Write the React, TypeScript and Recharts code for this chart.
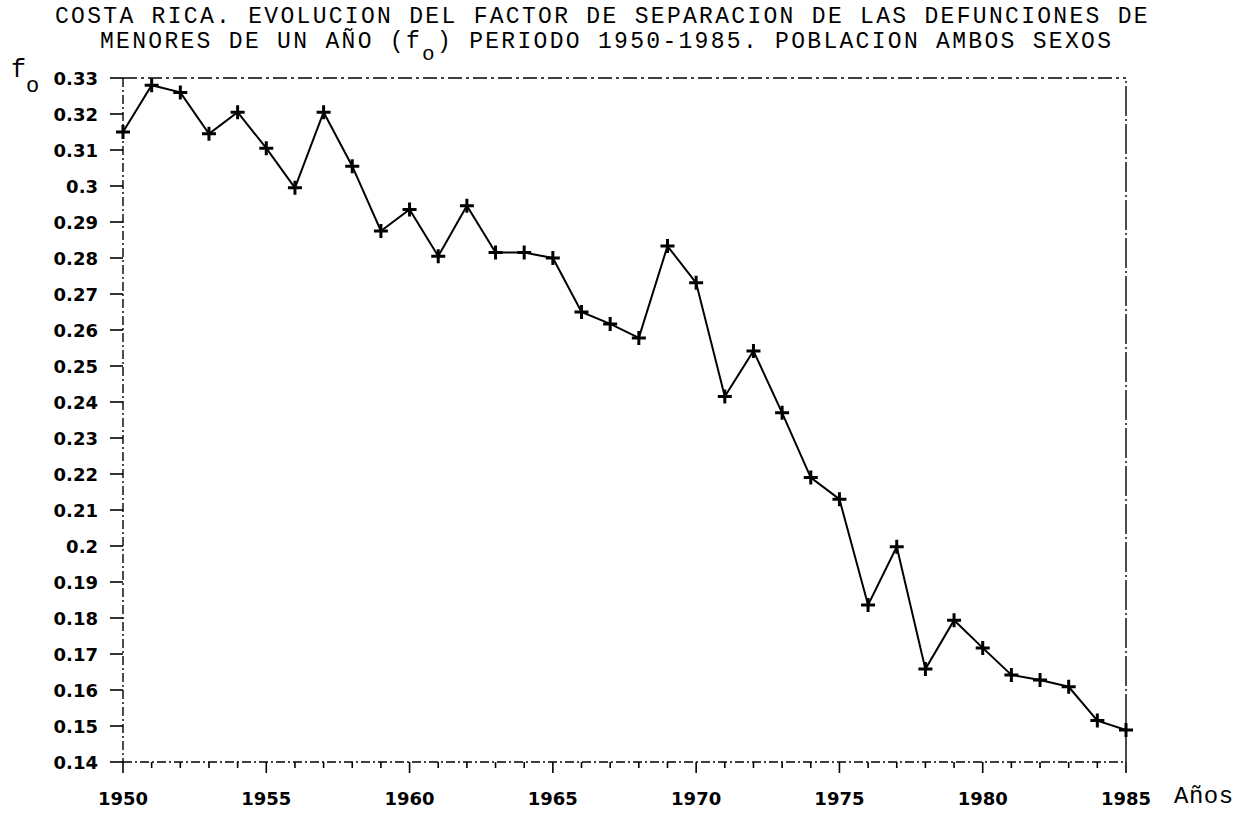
import React from 'react';
import { LineChart, Line, XAxis, YAxis, ReferenceLine } from 'recharts';

const years = [
  1950, 1951, 1952, 1953, 1954, 1955, 1956, 1957, 1958, 1959,
  1960, 1961, 1962, 1963, 1964, 1965, 1966, 1967, 1968, 1969,
  1970, 1971, 1972, 1973, 1974, 1975, 1976, 1977, 1978, 1979,
  1980, 1981, 1982, 1983, 1984, 1985,
];

const foValues = [
  0.315, 0.328, 0.326, 0.3145, 0.3205, 0.3105, 0.2995, 0.3205, 0.3055, 0.2875,
  0.2935, 0.2805, 0.2945, 0.2815, 0.2815, 0.28, 0.265, 0.2617, 0.2578, 0.2833,
  0.2731, 0.2415, 0.2542, 0.237, 0.219, 0.213, 0.1836, 0.1998, 0.1658, 0.1794,
  0.1717, 0.1642, 0.1628, 0.1609, 0.1515, 0.1489,
];

const yTicks = [
  0.14, 0.15, 0.16, 0.17, 0.18, 0.19, 0.2, 0.21, 0.22, 0.23,
  0.24, 0.25, 0.26, 0.27, 0.28, 0.29, 0.3, 0.31, 0.32, 0.33,
];

const xLabelYears = [1950, 1955, 1960, 1965, 1970, 1975, 1980, 1985];

const titleLine1 = 'COSTA RICA. EVOLUCION DEL FACTOR DE SEPARACION DE LAS DEFUNCIONES DE';
const titleLine2a = 'MENORES DE UN AÑO (f';
const titleLine2sub = 'o';
const titleLine2b = ') PERIODO 1950-1985. POBLACION AMBOS SEXOS';
const yAxisLabel = 'f';
const yAxisLabelSub = 'o';
const xAxisLabel = 'Años';

const data = years.map((y, i) => ({ year: y, fo: foValues[i] }));

const MONO = '"Liberation Mono", "DejaVu Sans Mono", monospace';
const TICKFONT = '"DejaVu Sans", sans-serif';

const XTick = (props: any) => {
  const { x, y, payload } = props;
  const v = payload.value as number;
  const major = xLabelYears.includes(v);
  return (
    <g>
      <line x1={x} x2={x} y1={y} y2={y + (major ? 11 : 6)} stroke="#000" strokeWidth={1.6} />
      {major && (
        <text x={x} y={y + 43} textAnchor="middle" fontFamily={TICKFONT} fontWeight="bold" fontSize={18} fill="#000">
          {v}
        </text>
      )}
    </g>
  );
};

const YTick = (props: any) => {
  const { x, y, payload } = props;
  const v = payload.value as number;
  return (
    <g>
      <line x1={x - 13} x2={x} y1={y} y2={y} stroke="#000" strokeWidth={1.6} />
      <text x={x - 25} y={y + 6.5} textAnchor="end" fontFamily={TICKFONT} fontWeight="bold" fontSize={18} fill="#000">
        {String(v)}
      </text>
    </g>
  );
};

const PlusDot = (props: any) => {
  const { cx, cy, index } = props;
  if (cx == null || cy == null) return <g key={index} />;
  const s = 7;
  return (
    <path
      key={index}
      d={`M${cx - s},${cy}H${cx + s}M${cx},${cy - s}V${cy + s}`}
      stroke="#000"
      strokeWidth={3}
      fill="none"
    />
  );
};

export default function App() {
  return (
    <div style={{ position: 'absolute', left: 0, top: 0, width: 1254, height: 814, background: '#fff' }}>
      <LineChart
        width={1254}
        height={814}
        data={data}
        margin={{ top: 78, right: 128, bottom: 22, left: 63 }}
      >
        <XAxis
          dataKey="year"
          type="number"
          domain={[1950, 1985]}
          ticks={years}
          interval={0}
          height={30}
          tickSize={0}
          tickMargin={0}
          tickLine={false}
          tick={<XTick />}
          axisLine={{ stroke: '#000', strokeWidth: 1.4, strokeDasharray: '9 3 2 3' }}
        />
        <YAxis
          type="number"
          domain={[0.14, 0.33]}
          ticks={yTicks}
          interval={0}
          width={60}
          tickSize={0}
          tickMargin={0}
          tickLine={false}
          tick={<YTick />}
          axisLine={{ stroke: '#000', strokeWidth: 1.4, strokeDasharray: '9 3 2 3' }}
        />
        <ReferenceLine y={0.33} stroke="#000" strokeWidth={1.4} strokeDasharray="14 4 3 4" />
        <ReferenceLine x={1985} stroke="#000" strokeWidth={1.4} strokeDasharray="30 3 2 3" />
        <Line
          dataKey="fo"
          type="linear"
          stroke="#000"
          strokeWidth={2}
          dot={(p: any) => <PlusDot {...p} key={p.index} />}
          activeDot={false}
          isAnimationActive={false}
        />
      </LineChart>
      <svg
        width={1254}
        height={814}
        style={{ position: 'absolute', left: 0, top: 0, pointerEvents: 'none' }}
      >
        <text x={55} y={23} fontFamily={MONO} fontSize={23} letterSpacing={2.3} fill="#000">
          {titleLine1}
        </text>
        <text x={100} y={48} fontFamily={MONO} fontSize={23} letterSpacing={2.3} fill="#000" xmlSpace="preserve">
          {titleLine2a}
          <tspan dy={12} fontSize={21}>{titleLine2sub}</tspan>
          <tspan dy={-12}>{titleLine2b}</tspan>
        </text>
        <text x={11} y={77} fontFamily={MONO} fontSize={25} fill="#000">
          {yAxisLabel}
        </text>
        <text x={26} y={92} fontFamily={MONO} fontSize={22} fill="#000">
          {yAxisLabelSub}
        </text>
        <text x={1174} y={803} fontFamily={MONO} fontSize={24} letterSpacing={0.5} fill="#000">
          {xAxisLabel}
        </text>
      </svg>
    </div>
  );
}
